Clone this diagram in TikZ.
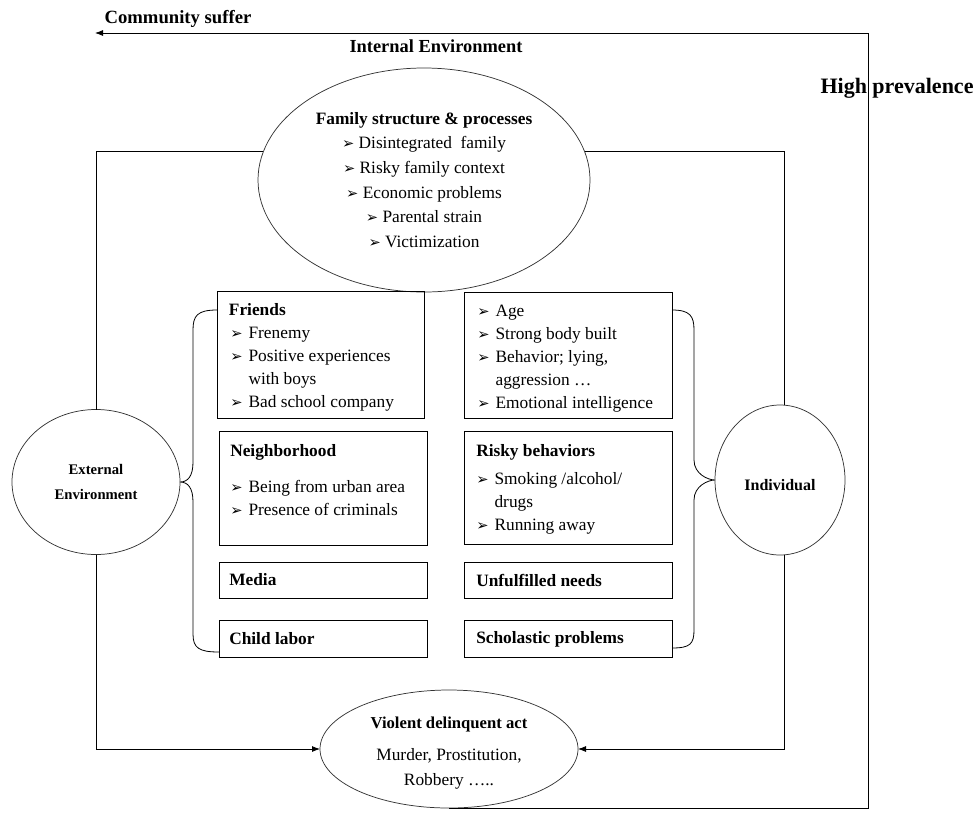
\documentclass[tikz,border=0pt]{standalone}
\usepackage{fontspec}
\setmainfont{Liberation Serif}
\newfontfamily\symfont{DejaVu Sans}
\usetikzlibrary{shapes.geometric,arrows.meta}

\def\pxl{0.75pt}
\newcommand{\itm}{{\symfont\fontsize{11}{8}\selectfont\char"27A2}}

\tikzset{
  box/.style={draw, anchor=north west, minimum width=208*\pxl, inner sep=0pt, outer sep=0pt, line width=0.6pt},
  boxtext/.style={anchor=north west, inner sep=0pt, align=left, font=\fontsize{13}{17.3}\selectfont},
  oneline/.style={anchor=west, inner sep=0pt, font=\bfseries\fontsize{13}{17.3}\selectfont},
  oval/.style={draw=black!80, ellipse, inner sep=0pt, outer sep=0pt, line width=0.55pt, align=center},
  link/.style={line width=0.6pt},
  arrow/.style={link, -{Latex[length=6pt,width=4.5pt]}},
}

\begin{document}
\begin{tikzpicture}[x=0.75pt, y=-0.75pt]
\useasboundingbox (0,0) rectangle (980,814);

% titles
\node[font=\bfseries\fontsize{14}{16}\selectfont] (suffertxt) at (178,19) {Community suffer};
\node[font=\bfseries\fontsize{13.8}{16}\selectfont] (internal) at (436,46) {Internal Environment};
\node[font=\bfseries\fontsize{16.5}{18}\selectfont] (high) at (897,88) {High prevalence};
\coordinate (topright) at (868,33);
\coordinate (suffer) at (95,33);

% ellipses
\node[oval, minimum width=332*\pxl, minimum height=224*\pxl, font=\fontsize{13}{18.5}\selectfont] (family) at (424,180)
  {\textbf{Family structure \& processes}\\
   \itm\ Disintegrated\ \ family\\
   \itm\ Risky family context\\
   \itm\ Economic problems\\
   \itm\ Parental strain\\
   \itm\ Victimization};
\node[oval, minimum width=168*\pxl, minimum height=145*\pxl, font=\bfseries\fontsize{11}{18.5}\selectfont] (extenv) at (96,482)
  {External\\Environment};
\node[oval, minimum width=130*\pxl, minimum height=150*\pxl] (indiv) at (780,480) {};
\node[font=\bfseries\fontsize{12}{14}\selectfont] (indivtxt) at (780,485) {Individual};
\node[oval, minimum width=258*\pxl, minimum height=118*\pxl] (violent) at (449,749) {};
\node[align=center, font=\fontsize{13}{18.75}\selectfont] (violenttxt) at (449,753)
  {\textbf{\fontsize{12.5}{18.75}\selectfont Violent delinquent act}\\[5pt]
   Murder, Prostitution,\\
   Robbery …..};

% left boxes
\node[box, minimum width=207*\pxl, minimum height=127*\pxl] (friends) at (217,291) {};
\node[boxtext] (friendstxt) at (230,299) {\begin{tabular}{@{}l@{\hspace{4.5pt}}l@{}}
  \multicolumn{2}{@{}l@{}}{\hspace{-1pt}\textbf{Friends}}\\
  \itm & Frenemy\\
  \itm & Positive experiences\\
       & with boys\\
  \itm & Bad school company
  \end{tabular}};

\node[box, minimum height=114*\pxl] (neigh) at (219,431) {};
\node[boxtext] (neightxt) at (230,440) {\begin{tabular}{@{}l@{\hspace{4.5pt}}l@{}}
  \multicolumn{2}{@{}l@{}}{\textbf{Neighborhood}}\\[9.75pt]
  \itm & Being from urban area\\
  \itm & Presence of criminals
  \end{tabular}};

\node[box, minimum height=36*\pxl] (media) at (219,562) {};
\node[oneline] (mediatxt) at (229,580) {Media};

\node[box, minimum height=37*\pxl] (childlab) at (219,620) {};
\node[oneline] (childlabtxt) at (229,639) {Child labor};

% right boxes
\node[box, minimum height=126*\pxl] (age) at (464,292) {};
\node[boxtext] (agetxt) at (477,300) {\begin{tabular}{@{}l@{\hspace{4.5pt}}l@{}}
  \itm & Age\\
  \itm & Strong body built\\
  \itm & Behavior; lying,\\
       & aggression …\\
  \itm & Emotional intelligence
  \end{tabular}};

\node[box, minimum height=113*\pxl] (risky) at (464,431) {};
\node[boxtext] (riskytxt) at (476,440) {\begin{tabular}{@{}l@{\hspace{4.5pt}}l@{}}
  \multicolumn{2}{@{}l@{}}{\textbf{Risky behaviors}}\\[3.75pt]
  \itm & Smoking /alcohol/\\
       & drugs\\
  \itm & Running away
  \end{tabular}};

\node[box, minimum height=36*\pxl] (needs) at (464,562) {};
\node[oneline] (needstxt) at (476,580) {Unfulfilled needs};

\node[box, minimum height=37*\pxl] (scholastic) at (464,620) {};
\node[oneline] (scholastictxt) at (476,639) {Scholastic problems};

% braces
\draw[link] (friends.west |- 0,310) .. controls (197,310) and (193,316) .. (193,330) -- (193,462)
  .. controls (193,476) and (188,482) .. (extenv.east)
  .. controls (188,482) and (193,488) .. (193,502) -- (193,634)
  .. controls (193,648) and (199,652) .. (childlab.west |- 0,652);
\draw[link] (age.east |- 0,310) .. controls (690,310) and (694,316) .. (694,330) -- (694,460)
  .. controls (694,474) and (708,480) .. (indiv.west)
  .. controls (708,480) and (694,486) .. (694,500) -- (694,630)
  .. controls (694,644) and (690,648) .. (scholastic.east |- 0,648);

% outer loop
\draw[link] (family.170) -| (extenv.north);
\draw[link] (family.10) -| ([xshift=4*\pxl]indiv.north);
\draw[arrow] (extenv.south) |- (violent.west);
\draw[arrow] ([xshift=4*\pxl]indiv.south) |- (violent.east);
\draw[arrow] (violent.south) -| (topright) -- (suffer);
\end{tikzpicture}
\end{document}
